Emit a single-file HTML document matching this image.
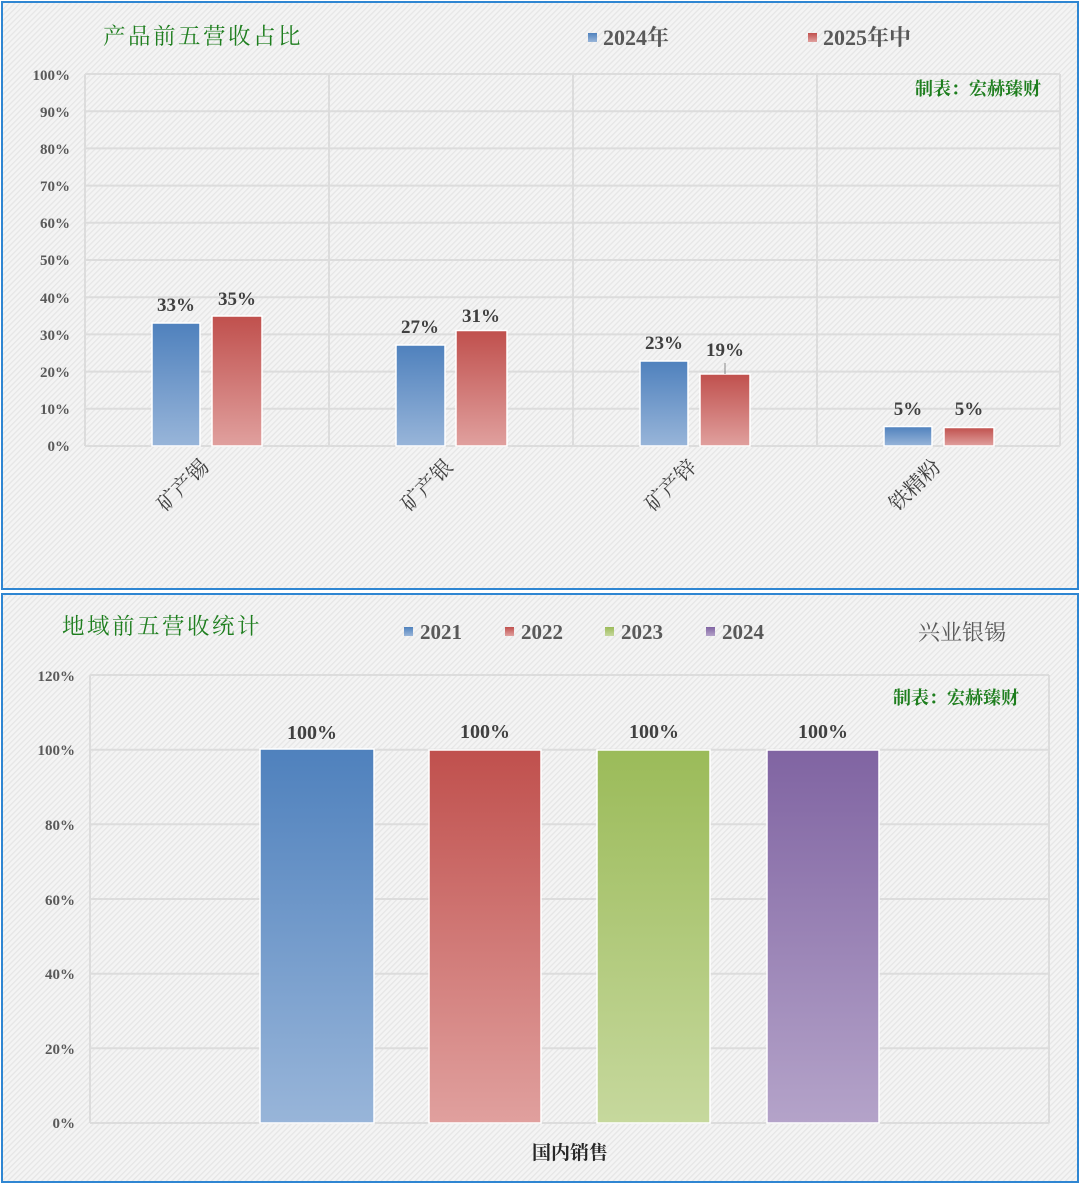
<!DOCTYPE html>
<html><head><meta charset="utf-8"><style>
body{margin:0;background:#fff;}
svg{display:block;font-family:"Liberation Serif","Noto Serif CJK SC",serif;}
</style></head><body>
<svg width="1080" height="1184" xmlns="http://www.w3.org/2000/svg">
<defs>
<pattern id="h" width="4" height="4" patternUnits="userSpaceOnUse" patternTransform="rotate(45)">
<rect width="4" height="4" fill="#f4f4f4"/><rect width="1.3" height="4" fill="#e6e6e6"/></pattern>
<linearGradient id="gb" x1="0" y1="0" x2="0" y2="1"><stop offset="0" stop-color="#4f81bd"/><stop offset="1" stop-color="#98b5d9"/></linearGradient>
<linearGradient id="gr" x1="0" y1="0" x2="0" y2="1"><stop offset="0" stop-color="#c0504d"/><stop offset="1" stop-color="#e0a09e"/></linearGradient>
<linearGradient id="gg" x1="0" y1="0" x2="0" y2="1"><stop offset="0" stop-color="#9bbb59"/><stop offset="1" stop-color="#c6d89d"/></linearGradient>
<linearGradient id="gp" x1="0" y1="0" x2="0" y2="1"><stop offset="0" stop-color="#8064a2"/><stop offset="1" stop-color="#b4a3c9"/></linearGradient>
</defs>
<!-- top chart -->
<rect x="2" y="2" width="1076" height="587" fill="url(#h)" stroke="#2f86d2" stroke-width="2"/>
<text x="103" y="44" font-size="22.5" fill="#1e7e1e" font-family="'Noto Serif CJK SC',serif" letter-spacing="2.5">产品前五营收占比</text>
<rect x="588" y="33" width="9" height="9" fill="url(#gb)"/>
<text x="603" y="45" font-size="22" font-weight="bold" fill="#595959">2024年</text>
<rect x="808" y="33" width="9" height="9" fill="url(#gr)"/>
<text x="823" y="45" font-size="22" font-weight="bold" fill="#595959">2025年中</text>
<text x="1041" y="95" font-size="18" font-weight="bold" fill="#1e7e1e" text-anchor="end">制表：宏赫臻财</text>
<g stroke="#dcdcdc" stroke-width="2">
<line x1="85" y1="74" x2="1060" y2="74"/><line x1="85" y1="111.2" x2="1060" y2="111.2"/><line x1="85" y1="148.4" x2="1060" y2="148.4"/><line x1="85" y1="185.6" x2="1060" y2="185.6"/><line x1="85" y1="222.8" x2="1060" y2="222.8"/><line x1="85" y1="260" x2="1060" y2="260"/><line x1="85" y1="297.2" x2="1060" y2="297.2"/><line x1="85" y1="334.4" x2="1060" y2="334.4"/><line x1="85" y1="371.6" x2="1060" y2="371.6"/><line x1="85" y1="408.8" x2="1060" y2="408.8"/><line x1="85" y1="446" x2="1060" y2="446"/>
<line x1="85" y1="74" x2="85" y2="446"/><line x1="329" y1="74" x2="329" y2="446"/><line x1="573" y1="74" x2="573" y2="446"/><line x1="817" y1="74" x2="817" y2="446"/><line x1="1060" y1="74" x2="1060" y2="446"/>
</g>
<g font-size="15" font-weight="bold" fill="#595959" text-anchor="end">
<text x="70" y="80">100%</text><text x="70" y="117">90%</text><text x="70" y="154">80%</text><text x="70" y="191">70%</text><text x="70" y="228">60%</text><text x="70" y="265">50%</text><text x="70" y="303">40%</text><text x="70" y="340">30%</text><text x="70" y="377">20%</text><text x="70" y="414">10%</text><text x="70" y="451">0%</text>
</g>
<g stroke="#fff" stroke-width="1.5">
<rect x="152" y="323" width="48" height="123" fill="url(#gb)"/><rect x="212" y="316" width="50" height="130" fill="url(#gr)"/>
<rect x="396" y="345" width="49" height="101" fill="url(#gb)"/><rect x="456" y="330.5" width="51" height="115.5" fill="url(#gr)"/>
<rect x="640" y="361" width="48" height="85" fill="url(#gb)"/><rect x="700" y="374" width="50" height="72" fill="url(#gr)"/>
<rect x="884" y="426.5" width="48" height="19.5" fill="url(#gb)"/><rect x="944" y="427.5" width="50" height="18.5" fill="url(#gr)"/>
</g>
<line x1="725" y1="363" x2="725" y2="374" stroke="#888" stroke-width="1"/>
<g font-size="19" font-weight="bold" fill="#404040" text-anchor="middle">
<text x="176" y="311">33%</text><text x="237" y="305">35%</text>
<text x="420" y="333">27%</text><text x="481" y="322">31%</text>
<text x="664" y="349">23%</text><text x="725" y="356">19%</text>
<text x="908" y="415">5%</text><text x="969" y="415">5%</text>
</g>
<g font-size="21" fill="#404040" font-family="'Noto Serif CJK SC',serif" text-anchor="end">
<text transform="translate(210,468) rotate(-45)">矿产锡</text>
<text transform="translate(454,468) rotate(-45)">矿产银</text>
<text transform="translate(698,468) rotate(-45)">矿产锌</text>
<text transform="translate(942,468) rotate(-45)">铁精粉</text>
</g>
<!-- bottom chart -->
<rect x="2" y="594" width="1076" height="588" fill="url(#h)" stroke="#2f86d2" stroke-width="2"/>
<text x="62" y="634" font-size="22.5" fill="#1e7e1e" font-family="'Noto Serif CJK SC',serif" letter-spacing="2.5">地域前五营收统计</text>
<rect x="404" y="627" width="9" height="9" fill="url(#gb)"/><text x="420" y="639" font-size="21" font-weight="bold" fill="#595959">2021</text>
<rect x="505" y="627" width="9" height="9" fill="url(#gr)"/><text x="521" y="639" font-size="21" font-weight="bold" fill="#595959">2022</text>
<rect x="605" y="627" width="9" height="9" fill="url(#gg)"/><text x="621" y="639" font-size="21" font-weight="bold" fill="#595959">2023</text>
<rect x="706" y="627" width="9" height="9" fill="url(#gp)"/><text x="722" y="639" font-size="21" font-weight="bold" fill="#595959">2024</text>
<text x="918" y="640" font-size="22" fill="#595959" font-family="'Noto Serif CJK SC',serif">兴业银锡</text>
<text x="1019" y="704" font-size="18" font-weight="bold" fill="#1e7e1e" text-anchor="end">制表：宏赫臻财</text>
<g stroke="#dcdcdc" stroke-width="2">
<line x1="90" y1="675" x2="1049" y2="675"/><line x1="90" y1="749.7" x2="1049" y2="749.7"/><line x1="90" y1="824.3" x2="1049" y2="824.3"/><line x1="90" y1="899" x2="1049" y2="899"/><line x1="90" y1="973.7" x2="1049" y2="973.7"/><line x1="90" y1="1048.3" x2="1049" y2="1048.3"/><line x1="90" y1="1123" x2="1049" y2="1123"/>
<line x1="90" y1="675" x2="90" y2="1123"/><line x1="1049" y1="675" x2="1049" y2="1123"/>
</g>
<g font-size="15" font-weight="bold" fill="#595959" text-anchor="end">
<text x="75" y="681">120%</text><text x="75" y="755">100%</text><text x="75" y="830">80%</text><text x="75" y="905">60%</text><text x="75" y="979">40%</text><text x="75" y="1054">20%</text><text x="75" y="1128">0%</text>
</g>
<g stroke="#fff" stroke-width="1.5">
<rect x="260" y="749" width="114" height="374" fill="url(#gb)"/>
<rect x="429" y="750" width="112" height="373" fill="url(#gr)"/>
<rect x="597" y="750" width="113" height="373" fill="url(#gg)"/>
<rect x="767" y="750" width="112" height="373" fill="url(#gp)"/>
</g>
<g font-size="20" font-weight="bold" fill="#404040" text-anchor="middle">
<text x="312" y="739">100%</text><text x="485" y="738">100%</text><text x="654" y="738">100%</text><text x="823" y="738">100%</text>
</g>
<text x="570" y="1159" font-size="19" font-weight="bold" fill="#262626" text-anchor="middle" font-family="'Noto Serif CJK SC',serif">国内销售</text>
</svg>
</body></html>
